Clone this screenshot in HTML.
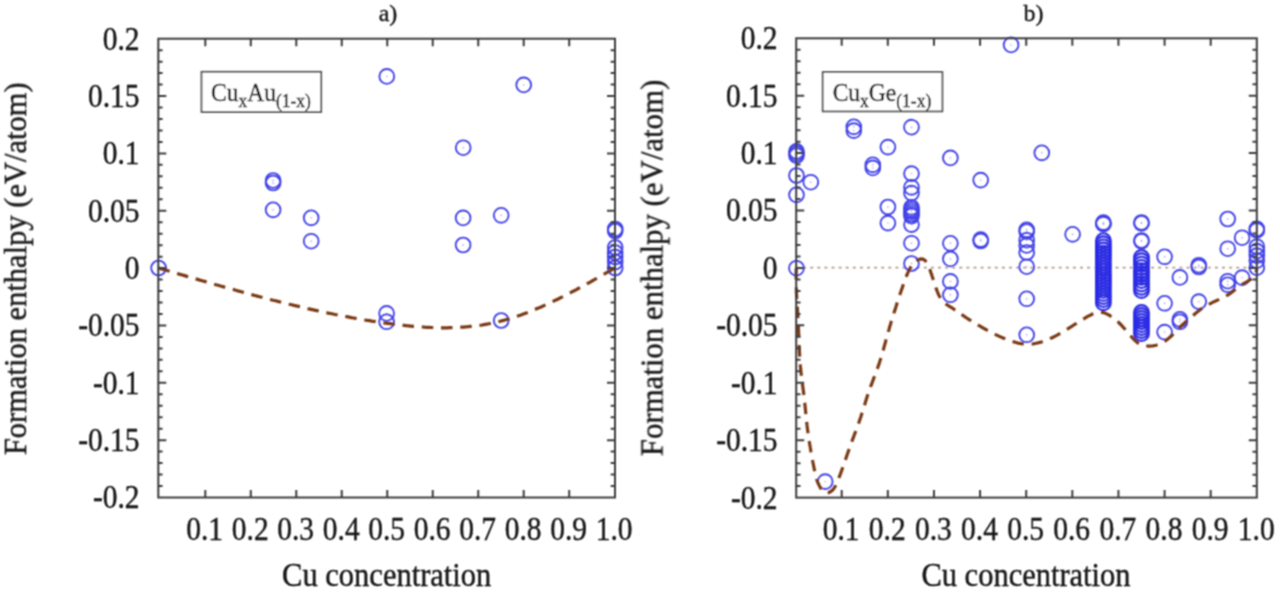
<!DOCTYPE html>
<html><head><meta charset="utf-8"><style>
html,body{margin:0;padding:0;background:#fff;}
body{width:1280px;height:592px;overflow:hidden;}
svg{display:block;}
</style></head><body>
<svg width="1280" height="592" viewBox="0 0 1280 592">
<defs><filter id="bl" x="0" y="0" width="1280" height="592" filterUnits="userSpaceOnUse"><feConvolveMatrix order="3" kernelMatrix="1 2 1 2 4 2 1 2 1" divisor="16" edgeMode="duplicate" preserveAlpha="false"/></filter></defs>
<rect width="1280" height="592" fill="#fff"/>
<g filter="url(#bl)">
<g font-family="Liberation Serif" fill="#151515" stroke="#151515" stroke-width="0.35">
<g font-size="29.5">
<text x="139.6" y="48.3" text-anchor="end" transform="translate(0 38.50) scale(1 1.14) translate(0 -38.50)">0.2</text>
<text x="139.6" y="105.7" text-anchor="end" transform="translate(0 95.85) scale(1 1.14) translate(0 -95.85)">0.15</text>
<text x="139.6" y="163.0" text-anchor="end" transform="translate(0 153.20) scale(1 1.14) translate(0 -153.20)">0.1</text>
<text x="139.6" y="220.3" text-anchor="end" transform="translate(0 210.55) scale(1 1.14) translate(0 -210.55)">0.05</text>
<text x="139.6" y="277.7" text-anchor="end" transform="translate(0 267.90) scale(1 1.14) translate(0 -267.90)">0</text>
<text x="139.6" y="335.1" text-anchor="end" transform="translate(0 325.25) scale(1 1.14) translate(0 -325.25)">-0.05</text>
<text x="139.6" y="392.4" text-anchor="end" transform="translate(0 382.60) scale(1 1.14) translate(0 -382.60)">-0.1</text>
<text x="139.6" y="449.8" text-anchor="end" transform="translate(0 439.95) scale(1 1.14) translate(0 -439.95)">-0.15</text>
<text x="139.6" y="507.1" text-anchor="end" transform="translate(0 497.30) scale(1 1.14) translate(0 -497.30)">-0.2</text>
<text x="204.7" y="538.3" text-anchor="middle" transform="translate(0 528.40) scale(1 1.14) translate(0 -528.40)">0.1</text>
<text x="250.2" y="538.3" text-anchor="middle" transform="translate(0 528.40) scale(1 1.14) translate(0 -528.40)">0.2</text>
<text x="295.7" y="538.3" text-anchor="middle" transform="translate(0 528.40) scale(1 1.14) translate(0 -528.40)">0.3</text>
<text x="341.2" y="538.3" text-anchor="middle" transform="translate(0 528.40) scale(1 1.14) translate(0 -528.40)">0.4</text>
<text x="386.6" y="538.3" text-anchor="middle" transform="translate(0 528.40) scale(1 1.14) translate(0 -528.40)">0.5</text>
<text x="432.1" y="538.3" text-anchor="middle" transform="translate(0 528.40) scale(1 1.14) translate(0 -528.40)">0.6</text>
<text x="477.6" y="538.3" text-anchor="middle" transform="translate(0 528.40) scale(1 1.14) translate(0 -528.40)">0.7</text>
<text x="523.1" y="538.3" text-anchor="middle" transform="translate(0 528.40) scale(1 1.14) translate(0 -528.40)">0.8</text>
<text x="568.6" y="538.3" text-anchor="middle" transform="translate(0 528.40) scale(1 1.14) translate(0 -528.40)">0.9</text>
<text x="614.1" y="538.3" text-anchor="middle" transform="translate(0 528.40) scale(1 1.14) translate(0 -528.40)">1.0</text>
<text x="777.6" y="47.9" text-anchor="end" transform="translate(0 38.10) scale(1 1.14) translate(0 -38.10)">0.2</text>
<text x="777.6" y="105.3" text-anchor="end" transform="translate(0 95.51) scale(1 1.14) translate(0 -95.51)">0.15</text>
<text x="777.6" y="162.7" text-anchor="end" transform="translate(0 152.92) scale(1 1.14) translate(0 -152.92)">0.1</text>
<text x="777.6" y="220.1" text-anchor="end" transform="translate(0 210.34) scale(1 1.14) translate(0 -210.34)">0.05</text>
<text x="777.6" y="277.6" text-anchor="end" transform="translate(0 267.75) scale(1 1.14) translate(0 -267.75)">0</text>
<text x="777.6" y="335.0" text-anchor="end" transform="translate(0 325.16) scale(1 1.14) translate(0 -325.16)">-0.05</text>
<text x="777.6" y="392.4" text-anchor="end" transform="translate(0 382.58) scale(1 1.14) translate(0 -382.58)">-0.1</text>
<text x="777.6" y="449.8" text-anchor="end" transform="translate(0 439.99) scale(1 1.14) translate(0 -439.99)">-0.15</text>
<text x="777.6" y="507.2" text-anchor="end" transform="translate(0 497.40) scale(1 1.14) translate(0 -497.40)">-0.2</text>
<text x="841.1" y="538.3" text-anchor="middle" transform="translate(0 528.40) scale(1 1.14) translate(0 -528.40)">0.1</text>
<text x="887.2" y="538.3" text-anchor="middle" transform="translate(0 528.40) scale(1 1.14) translate(0 -528.40)">0.2</text>
<text x="933.4" y="538.3" text-anchor="middle" transform="translate(0 528.40) scale(1 1.14) translate(0 -528.40)">0.3</text>
<text x="979.5" y="538.3" text-anchor="middle" transform="translate(0 528.40) scale(1 1.14) translate(0 -528.40)">0.4</text>
<text x="1025.6" y="538.3" text-anchor="middle" transform="translate(0 528.40) scale(1 1.14) translate(0 -528.40)">0.5</text>
<text x="1071.7" y="538.3" text-anchor="middle" transform="translate(0 528.40) scale(1 1.14) translate(0 -528.40)">0.6</text>
<text x="1117.9" y="538.3" text-anchor="middle" transform="translate(0 528.40) scale(1 1.14) translate(0 -528.40)">0.7</text>
<text x="1164.0" y="538.3" text-anchor="middle" transform="translate(0 528.40) scale(1 1.14) translate(0 -528.40)">0.8</text>
<text x="1210.1" y="538.3" text-anchor="middle" transform="translate(0 528.40) scale(1 1.14) translate(0 -528.40)">0.9</text>
<text x="1256.2" y="538.3" text-anchor="middle" transform="translate(0 528.40) scale(1 1.14) translate(0 -528.40)">1.0</text>
</g>
<g font-size="30.5">
<text x="386.7" y="585.5" text-anchor="middle" transform="translate(0 584) scale(1 1.08) translate(0 -584)">Cu concentration</text>
<text x="1026" y="585.5" text-anchor="middle" transform="translate(0 584) scale(1 1.08) translate(0 -584)">Cu concentration</text>
<text transform="translate(26,268.8) rotate(-90)" text-anchor="middle">Formation enthalpy (eV/atom)</text>
<text transform="translate(662.5,267.9) rotate(-90)" text-anchor="middle" font-size="30.8">Formation enthalpy (eV/atom)</text>
</g>
<g font-size="24">
<text x="388" y="21" text-anchor="middle">a)</text>
<text x="1033.4" y="21" text-anchor="middle">b)</text>
</g>
</g>
<rect x="201.5" y="71.8" width="119.7" height="40.2" fill="#fff" stroke="#555" stroke-width="1.8"/>
<rect x="822.7" y="72" width="119.7" height="39.4" fill="#fff" stroke="#555" stroke-width="1.8"/>
<g font-family="Liberation Serif" fill="#151515" stroke="#151515" stroke-width="0.35">
<text x="211" y="100.6" font-size="23.5" transform="translate(0 100) scale(1 1.07) translate(0 -100)">Cu<tspan font-size="17.5" dy="6">x</tspan><tspan dy="-6">Au</tspan><tspan font-size="17.5" dy="6">(1-x)</tspan></text>
<text x="832.7" y="100.6" font-size="23.5" transform="translate(0 100) scale(1 1.07) translate(0 -100)">Cu<tspan font-size="17.5" dy="6">x</tspan><tspan dy="-6">Ge</tspan><tspan font-size="17.5" dy="6">(1-x)</tspan></text>
</g>
<path d="M796.2 267.7H1256.8" stroke="#b49c92" stroke-width="1.8" stroke-dasharray="3 4.1" stroke-dashoffset="0.2" fill="none"/>
<g fill="none" stroke="#2c2ce4" stroke-width="2.1">
<circle cx="1103.4" cy="240.7" r="7.4"/>
<circle cx="1103.4" cy="243.79999999999998" r="7.4"/>
<circle cx="1103.4" cy="246.89999999999998" r="7.4"/>
<circle cx="1103.4" cy="250.0" r="7.4"/>
<circle cx="1103.4" cy="253.1" r="7.4"/>
<circle cx="1103.4" cy="256.2" r="7.4"/>
<circle cx="1103.4" cy="259.3" r="7.4"/>
<circle cx="1103.4" cy="262.4" r="7.4"/>
<circle cx="1103.4" cy="265.5" r="7.4"/>
<circle cx="1103.4" cy="268.59999999999997" r="7.4"/>
<circle cx="1103.4" cy="271.7" r="7.4"/>
<circle cx="1103.4" cy="274.8" r="7.4"/>
<circle cx="1103.4" cy="277.9" r="7.4"/>
<circle cx="1103.4" cy="281.0" r="7.4"/>
<circle cx="1103.4" cy="284.09999999999997" r="7.4"/>
<circle cx="1103.4" cy="287.2" r="7.4"/>
<circle cx="1103.4" cy="290.3" r="7.4"/>
<circle cx="1103.4" cy="293.4" r="7.4"/>
<circle cx="1103.4" cy="296.5" r="7.4"/>
<circle cx="1103.4" cy="299.59999999999997" r="7.4"/>
<circle cx="1103.4" cy="302.7" r="7.4"/>
<circle cx="1141.5" cy="257.5" r="7.4"/>
<circle cx="1141.5" cy="260.8" r="7.4"/>
<circle cx="1141.5" cy="264.1" r="7.4"/>
<circle cx="1141.5" cy="267.4" r="7.4"/>
<circle cx="1141.5" cy="270.7" r="7.4"/>
<circle cx="1141.5" cy="274.0" r="7.4"/>
<circle cx="1141.5" cy="277.3" r="7.4"/>
<circle cx="1141.5" cy="280.6" r="7.4"/>
<circle cx="1141.5" cy="283.9" r="7.4"/>
<circle cx="1141.5" cy="287.2" r="7.4"/>
<circle cx="1141.5" cy="290.5" r="7.4"/>
<circle cx="1141.5" cy="312.5" r="7.4"/>
<circle cx="1141.5" cy="315.5" r="7.4"/>
<circle cx="1141.5" cy="318.5" r="7.4"/>
<circle cx="1141.5" cy="321.5" r="7.4"/>
<circle cx="1141.5" cy="324.5" r="7.4"/>
<circle cx="1141.5" cy="327.5" r="7.4"/>
<circle cx="1141.5" cy="330.5" r="7.4"/>
<circle cx="1141.5" cy="333.5" r="7.4"/>
</g>
<g fill="none" stroke="#4242e8" stroke-width="1.85">
<circle cx="158.6" cy="268" r="7.4"/>
<circle cx="273.1" cy="180.5" r="7.4"/>
<circle cx="273.1" cy="183" r="7.4"/>
<circle cx="273.1" cy="209.8" r="7.4"/>
<circle cx="311.2" cy="217.8" r="7.4"/>
<circle cx="311.2" cy="241.2" r="7.4"/>
<circle cx="386.8" cy="76.4" r="7.4"/>
<circle cx="386.6" cy="313.4" r="7.4"/>
<circle cx="386.6" cy="321.8" r="7.4"/>
<circle cx="463.2" cy="147.7" r="7.4"/>
<circle cx="463.1" cy="217.9" r="7.4"/>
<circle cx="463.1" cy="245" r="7.4"/>
<circle cx="501.2" cy="215.3" r="7.4"/>
<circle cx="501.2" cy="320.5" r="7.4"/>
<circle cx="523.7" cy="84.9" r="7.4"/>
<circle cx="615.2" cy="229.0" r="7.4"/>
<circle cx="615.2" cy="231.0" r="7.4"/>
<circle cx="615.2" cy="247.5" r="7.4"/>
<circle cx="615.2" cy="252.5" r="7.4"/>
<circle cx="615.2" cy="257" r="7.4"/>
<circle cx="615.2" cy="262" r="7.4"/>
<circle cx="615.2" cy="268" r="7.4"/>
<circle cx="796.5" cy="151.4" r="7.4"/>
<circle cx="796.5" cy="153.4" r="7.4"/>
<circle cx="796.5" cy="155.5" r="7.4"/>
<circle cx="796.5" cy="175.5" r="7.4"/>
<circle cx="810.8" cy="182.2" r="7.4"/>
<circle cx="796.5" cy="194.8" r="7.4"/>
<circle cx="796.5" cy="268.2" r="7.4"/>
<circle cx="825.2" cy="481.6" r="7.4"/>
<circle cx="853.8" cy="126.8" r="7.4"/>
<circle cx="853.8" cy="130.6" r="7.4"/>
<circle cx="872.8" cy="164.8" r="7.4"/>
<circle cx="872.8" cy="167.9" r="7.4"/>
<circle cx="887.9" cy="147.1" r="7.4"/>
<circle cx="887.9" cy="207" r="7.4"/>
<circle cx="887.9" cy="223.1" r="7.4"/>
<circle cx="911.5" cy="127.2" r="7.4"/>
<circle cx="911.5" cy="173.6" r="7.4"/>
<circle cx="911.5" cy="187.4" r="7.4"/>
<circle cx="911.5" cy="193.1" r="7.4"/>
<circle cx="911.5" cy="207.4" r="7.4"/>
<circle cx="911.5" cy="209.5" r="7.4"/>
<circle cx="911.5" cy="211.7" r="7.4"/>
<circle cx="911.5" cy="214" r="7.4"/>
<circle cx="911.5" cy="216" r="7.4"/>
<circle cx="911.5" cy="224.6" r="7.4"/>
<circle cx="911.5" cy="243.2" r="7.4"/>
<circle cx="911.5" cy="263.5" r="7.4"/>
<circle cx="950.4" cy="157.9" r="7.4"/>
<circle cx="950.4" cy="243.3" r="7.4"/>
<circle cx="950.4" cy="258.9" r="7.4"/>
<circle cx="950.4" cy="281.4" r="7.4"/>
<circle cx="950.4" cy="294.8" r="7.4"/>
<circle cx="980.7" cy="180.1" r="7.4"/>
<circle cx="980.7" cy="239.6" r="7.4"/>
<circle cx="980.7" cy="241" r="7.4"/>
<circle cx="1011.1" cy="44.9" r="7.4"/>
<circle cx="1041.8" cy="152.8" r="7.4"/>
<circle cx="1026.7" cy="229.8" r="7.4"/>
<circle cx="1026.7" cy="231.5" r="7.4"/>
<circle cx="1026.7" cy="240.2" r="7.4"/>
<circle cx="1026.7" cy="245.4" r="7.4"/>
<circle cx="1026.7" cy="252.5" r="7.4"/>
<circle cx="1026.7" cy="266.7" r="7.4"/>
<circle cx="1026.7" cy="298.8" r="7.4"/>
<circle cx="1026.7" cy="334.8" r="7.4"/>
<circle cx="1072.6" cy="234.3" r="7.4"/>
<circle cx="1103.4" cy="223.4" r="7.4"/>
<circle cx="1103.4" cy="222.6" r="7.4"/>
<circle cx="1103.4" cy="224.2" r="7.4"/>
<circle cx="1141.5" cy="223.3" r="7.4"/>
<circle cx="1141.5" cy="240.5" r="7.4"/>
<circle cx="1141.5" cy="222.5" r="7.4"/>
<circle cx="1141.5" cy="241.3" r="7.4"/>
<circle cx="1164.6" cy="256.8" r="7.4"/>
<circle cx="1164.6" cy="303.3" r="7.4"/>
<circle cx="1164.6" cy="332.1" r="7.4"/>
<circle cx="1179.9" cy="277.4" r="7.4"/>
<circle cx="1179.9" cy="319.3" r="7.4"/>
<circle cx="1179.9" cy="321.8" r="7.4"/>
<circle cx="1198.8" cy="265.2" r="7.4"/>
<circle cx="1198.8" cy="267.0" r="7.4"/>
<circle cx="1198.8" cy="301.6" r="7.4"/>
<circle cx="1227.7" cy="219" r="7.4"/>
<circle cx="1227.7" cy="248.7" r="7.4"/>
<circle cx="1227.7" cy="281.2" r="7.4"/>
<circle cx="1227.7" cy="284.8" r="7.4"/>
<circle cx="1242.1" cy="237.7" r="7.4"/>
<circle cx="1242.1" cy="277.6" r="7.4"/>
<circle cx="1256.8" cy="228.8" r="7.4"/>
<circle cx="1256.8" cy="230.4" r="7.4"/>
<circle cx="1256.8" cy="246.7" r="7.4"/>
<circle cx="1256.8" cy="251.1" r="7.4"/>
<circle cx="1256.8" cy="255.6" r="7.4"/>
<circle cx="1256.8" cy="260.6" r="7.4"/>
<circle cx="1256.8" cy="267.6" r="7.4"/>
</g>
<g fill="#4242e8" opacity="0.6">
<circle cx="158.6" cy="268" r="0.7"/>
<circle cx="273.1" cy="180.5" r="0.7"/>
<circle cx="273.1" cy="183" r="0.7"/>
<circle cx="273.1" cy="209.8" r="0.7"/>
<circle cx="311.2" cy="217.8" r="0.7"/>
<circle cx="311.2" cy="241.2" r="0.7"/>
<circle cx="386.8" cy="76.4" r="0.7"/>
<circle cx="386.6" cy="313.4" r="0.7"/>
<circle cx="386.6" cy="321.8" r="0.7"/>
<circle cx="463.2" cy="147.7" r="0.7"/>
<circle cx="463.1" cy="217.9" r="0.7"/>
<circle cx="463.1" cy="245" r="0.7"/>
<circle cx="501.2" cy="215.3" r="0.7"/>
<circle cx="501.2" cy="320.5" r="0.7"/>
<circle cx="523.7" cy="84.9" r="0.7"/>
<circle cx="615.2" cy="229.0" r="0.7"/>
<circle cx="615.2" cy="231.0" r="0.7"/>
<circle cx="615.2" cy="247.5" r="0.7"/>
<circle cx="615.2" cy="252.5" r="0.7"/>
<circle cx="615.2" cy="257" r="0.7"/>
<circle cx="615.2" cy="262" r="0.7"/>
<circle cx="615.2" cy="268" r="0.7"/>
<circle cx="796.5" cy="151.4" r="0.7"/>
<circle cx="796.5" cy="153.4" r="0.7"/>
<circle cx="796.5" cy="155.5" r="0.7"/>
<circle cx="796.5" cy="175.5" r="0.7"/>
<circle cx="810.8" cy="182.2" r="0.7"/>
<circle cx="796.5" cy="194.8" r="0.7"/>
<circle cx="796.5" cy="268.2" r="0.7"/>
<circle cx="825.2" cy="481.6" r="0.7"/>
<circle cx="853.8" cy="126.8" r="0.7"/>
<circle cx="853.8" cy="130.6" r="0.7"/>
<circle cx="872.8" cy="164.8" r="0.7"/>
<circle cx="872.8" cy="167.9" r="0.7"/>
<circle cx="887.9" cy="147.1" r="0.7"/>
<circle cx="887.9" cy="207" r="0.7"/>
<circle cx="887.9" cy="223.1" r="0.7"/>
<circle cx="911.5" cy="127.2" r="0.7"/>
<circle cx="911.5" cy="173.6" r="0.7"/>
<circle cx="911.5" cy="187.4" r="0.7"/>
<circle cx="911.5" cy="193.1" r="0.7"/>
<circle cx="911.5" cy="207.4" r="0.7"/>
<circle cx="911.5" cy="209.5" r="0.7"/>
<circle cx="911.5" cy="211.7" r="0.7"/>
<circle cx="911.5" cy="214" r="0.7"/>
<circle cx="911.5" cy="216" r="0.7"/>
<circle cx="911.5" cy="224.6" r="0.7"/>
<circle cx="911.5" cy="243.2" r="0.7"/>
<circle cx="911.5" cy="263.5" r="0.7"/>
<circle cx="950.4" cy="157.9" r="0.7"/>
<circle cx="950.4" cy="243.3" r="0.7"/>
<circle cx="950.4" cy="258.9" r="0.7"/>
<circle cx="950.4" cy="281.4" r="0.7"/>
<circle cx="950.4" cy="294.8" r="0.7"/>
<circle cx="980.7" cy="180.1" r="0.7"/>
<circle cx="980.7" cy="239.6" r="0.7"/>
<circle cx="980.7" cy="241" r="0.7"/>
<circle cx="1011.1" cy="44.9" r="0.7"/>
<circle cx="1041.8" cy="152.8" r="0.7"/>
<circle cx="1026.7" cy="229.8" r="0.7"/>
<circle cx="1026.7" cy="231.5" r="0.7"/>
<circle cx="1026.7" cy="240.2" r="0.7"/>
<circle cx="1026.7" cy="245.4" r="0.7"/>
<circle cx="1026.7" cy="252.5" r="0.7"/>
<circle cx="1026.7" cy="266.7" r="0.7"/>
<circle cx="1026.7" cy="298.8" r="0.7"/>
<circle cx="1026.7" cy="334.8" r="0.7"/>
<circle cx="1072.6" cy="234.3" r="0.7"/>
<circle cx="1103.4" cy="223.4" r="0.7"/>
<circle cx="1103.4" cy="222.6" r="0.7"/>
<circle cx="1103.4" cy="224.2" r="0.7"/>
<circle cx="1141.5" cy="223.3" r="0.7"/>
<circle cx="1141.5" cy="240.5" r="0.7"/>
<circle cx="1141.5" cy="222.5" r="0.7"/>
<circle cx="1141.5" cy="241.3" r="0.7"/>
<circle cx="1164.6" cy="256.8" r="0.7"/>
<circle cx="1164.6" cy="303.3" r="0.7"/>
<circle cx="1164.6" cy="332.1" r="0.7"/>
<circle cx="1179.9" cy="277.4" r="0.7"/>
<circle cx="1179.9" cy="319.3" r="0.7"/>
<circle cx="1179.9" cy="321.8" r="0.7"/>
<circle cx="1198.8" cy="265.2" r="0.7"/>
<circle cx="1198.8" cy="267.0" r="0.7"/>
<circle cx="1198.8" cy="301.6" r="0.7"/>
<circle cx="1227.7" cy="219" r="0.7"/>
<circle cx="1227.7" cy="248.7" r="0.7"/>
<circle cx="1227.7" cy="281.2" r="0.7"/>
<circle cx="1227.7" cy="284.8" r="0.7"/>
<circle cx="1242.1" cy="237.7" r="0.7"/>
<circle cx="1242.1" cy="277.6" r="0.7"/>
<circle cx="1256.8" cy="228.8" r="0.7"/>
<circle cx="1256.8" cy="230.4" r="0.7"/>
<circle cx="1256.8" cy="246.7" r="0.7"/>
<circle cx="1256.8" cy="251.1" r="0.7"/>
<circle cx="1256.8" cy="255.6" r="0.7"/>
<circle cx="1256.8" cy="260.6" r="0.7"/>
<circle cx="1256.8" cy="267.6" r="0.7"/>
</g>
<path d="M158.6 268.0 L160.9 268.7 L163.2 269.4 L165.5 270.0 L167.8 270.7 L170.1 271.4 L172.4 272.0 L174.7 272.7 L176.9 273.4 L179.2 274.1 L181.5 274.7 L183.8 275.4 L186.1 276.1 L188.4 276.8 L190.7 277.4 L193.0 278.1 L195.3 278.8 L197.6 279.4 L199.9 280.1 L202.2 280.7 L204.5 281.4 L206.8 282.1 L209.1 282.7 L211.3 283.4 L213.6 284.0 L215.9 284.7 L218.2 285.3 L220.5 286.0 L222.8 286.6 L225.1 287.3 L227.4 287.9 L229.7 288.6 L232.0 289.2 L234.3 289.8 L236.6 290.5 L238.9 291.1 L241.2 291.7 L243.5 292.4 L245.8 293.0 L248.0 293.6 L250.3 294.2 L252.6 294.9 L254.9 295.5 L257.2 296.1 L259.5 296.7 L261.8 297.3 L264.1 297.9 L266.4 298.5 L268.7 299.1 L271.0 299.7 L273.3 300.3 L275.6 300.8 L277.9 301.4 L280.2 302.0 L282.4 302.6 L284.7 303.1 L287.0 303.7 L289.3 304.3 L291.6 304.8 L293.9 305.4 L296.2 305.9 L298.5 306.4 L300.8 307.0 L303.1 307.5 L305.4 308.0 L307.7 308.6 L310.0 309.1 L312.3 309.6 L314.6 310.1 L316.8 310.6 L319.1 311.1 L321.4 311.6 L323.7 312.1 L326.0 312.6 L328.3 313.1 L330.6 313.5 L332.9 314.0 L335.2 314.5 L337.5 314.9 L339.8 315.4 L342.1 315.8 L344.4 316.3 L346.7 316.7 L349.0 317.1 L351.3 317.6 L353.5 318.0 L355.8 318.4 L358.1 318.8 L360.4 319.2 L362.7 319.6 L365.0 320.0 L367.3 320.3 L369.6 320.7 L371.9 321.1 L374.2 321.4 L376.5 321.8 L378.8 322.1 L381.1 322.5 L383.4 322.8 L385.7 323.1 L387.9 323.4 L390.2 323.7 L392.5 324.0 L394.8 324.3 L397.1 324.6 L399.4 324.9 L401.7 325.2 L404.0 325.4 L406.3 325.7 L408.6 325.9 L410.9 326.1 L413.2 326.3 L415.5 326.5 L417.8 326.7 L420.1 326.9 L422.3 327.0 L424.6 327.2 L426.9 327.3 L429.2 327.4 L431.5 327.5 L433.8 327.6 L436.1 327.7 L438.4 327.7 L440.7 327.8 L443.0 327.8 L445.3 327.8 L447.6 327.8 L449.9 327.7 L452.2 327.7 L454.5 327.6 L456.8 327.5 L459.0 327.4 L461.3 327.2 L463.6 327.1 L465.9 326.9 L468.2 326.7 L470.5 326.4 L472.8 326.2 L475.1 325.9 L477.4 325.6 L479.7 325.3 L482.0 325.0 L484.3 324.6 L486.6 324.2 L488.9 323.8 L491.2 323.3 L493.4 322.8 L495.7 322.3 L498.0 321.8 L500.3 321.2 L502.6 320.6 L504.9 320.0 L507.2 319.4 L509.5 318.7 L511.8 318.0 L514.1 317.3 L516.4 316.5 L518.7 315.7 L521.0 314.9 L523.3 314.1 L525.6 313.2 L527.8 312.4 L530.1 311.5 L532.4 310.5 L534.7 309.6 L537.0 308.6 L539.3 307.7 L541.6 306.7 L543.9 305.6 L546.2 304.6 L548.5 303.6 L550.8 302.5 L553.1 301.4 L555.4 300.3 L557.7 299.2 L560.0 298.0 L562.3 296.9 L564.5 295.7 L566.8 294.6 L569.1 293.4 L571.4 292.2 L573.7 291.0 L576.0 289.8 L578.3 288.5 L580.6 287.3 L582.9 286.0 L585.2 284.8 L587.5 283.5 L589.8 282.3 L592.1 281.0 L594.4 279.7 L596.7 278.4 L598.9 277.1 L601.2 275.8 L603.5 274.5 L605.8 273.2 L608.1 271.9 L610.4 270.6 L612.7 269.3 L615.0 268.0" stroke="#7a3a14" stroke-width="3.2" stroke-dasharray="11.5 7.8" fill="none"/>
<path d="M796.3 268.0 L796.2 269.5 L796.2 271.0 L796.1 272.5 L796.1 274.1 L796.1 275.6 L796.1 277.1 L796.1 278.6 L796.1 280.1 L796.1 281.6 L796.1 283.2 L796.2 284.7 L796.2 286.2 L796.3 287.7 L796.3 289.2 L796.4 290.7 L796.4 292.2 L796.5 293.8 L796.6 295.3 L796.7 296.8 L796.8 298.3 L796.8 299.8 L796.9 301.3 L797.0 302.8 L797.1 304.4 L797.2 305.9 L797.3 307.4 L797.4 308.9 L797.5 310.4 L797.6 311.9 L797.7 313.4 L797.8 315.0 L797.9 316.5 L797.9 318.0 L798.0 319.5 L798.1 321.0 L798.2 322.5 L798.3 324.0 L798.3 325.6 L798.4 327.1 L798.5 328.6 L798.5 330.1 L798.6 331.6 L798.7 333.1 L798.7 334.7 L798.8 336.2 L798.8 337.7 L798.9 339.2 L799.0 340.7 L799.0 342.2 L799.1 343.8 L799.1 345.3 L799.2 346.8 L799.3 348.3 L799.4 349.8 L799.4 351.3 L799.5 352.8 L799.6 354.4 L799.7 355.9 L799.8 357.4 L799.9 358.9 L800.0 360.4 L800.1 361.9 L800.2 363.4 L800.3 364.9 L800.4 366.4 L800.6 368.0 L800.7 369.5 L800.8 371.0 L801.0 372.5 L801.2 374.0 L801.3 375.5 L801.5 377.0 L801.7 378.5 L801.9 380.0 L802.1 381.5 L802.3 383.0 L802.5 384.5 L802.7 386.0 L802.9 387.5 L803.1 389.0 L803.3 390.5 L803.5 392.0 L803.7 393.5 L803.9 395.0 L804.1 396.5 L804.2 398.0 L804.4 399.6 L804.6 401.1 L804.7 402.6 L804.9 404.1 L805.0 405.6 L805.2 407.1 L805.3 408.6 L805.5 410.1 L805.6 411.6 L805.8 413.1 L805.9 414.6 L806.1 416.2 L806.2 417.7 L806.4 419.2 L806.5 420.7 L806.7 422.2 L806.9 423.7 L807.0 425.2 L807.2 426.7 L807.4 428.2 L807.6 429.7 L807.8 431.2 L808.0 432.7 L808.2 434.2 L808.4 435.7 L808.6 437.2 L808.9 438.7 L809.1 440.2 L809.3 441.7 L809.6 443.2 L809.8 444.7 L810.1 446.2 L810.3 447.7 L810.6 449.2 L810.8 450.7 L811.1 452.3 L811.4 453.8 L811.6 455.3 L811.9 456.8 L812.2 458.3 L812.5 459.8 L812.7 461.2 L813.0 462.7 L813.3 464.2 L813.6 465.7 L813.9 467.1 L814.1 468.6 L814.4 470.0 L814.7 471.5 L815.0 472.9 L815.3 474.3 L815.7 475.7 L816.0 477.2 L816.5 478.6 L816.9 480.0 L817.4 481.5 L818.0 483.0 L818.7 484.4 L819.4 485.9 L820.2 487.4 L821.1 488.9 L822.1 490.3 L823.2 491.4 L824.4 492.3 L825.6 492.9 L827.0 493.0 L828.4 492.7 L829.9 492.0 L831.2 491.1 L832.5 490.1 L833.5 488.9 L834.4 487.7 L835.2 486.4 L836.0 485.1 L836.6 483.7 L837.2 482.3 L837.8 480.9 L838.3 479.5 L838.9 478.1 L839.4 476.6 L840.0 475.2 L840.5 473.8 L841.0 472.4 L841.5 471.0 L842.0 469.5 L842.5 468.1 L843.0 466.7 L843.5 465.2 L844.0 463.8 L844.5 462.4 L845.0 460.9 L845.5 459.5 L846.0 458.1 L846.5 456.6 L847.0 455.2 L847.5 453.8 L848.0 452.3 L848.5 450.9 L849.0 449.5 L849.5 448.1 L850.0 446.6 L850.5 445.2 L851.0 443.8 L851.6 442.3 L852.1 440.9 L852.6 439.5 L853.1 438.1 L853.7 436.7 L854.2 435.2 L854.7 433.8 L855.3 432.4 L855.8 431.0 L856.3 429.6 L856.8 428.1 L857.4 426.7 L857.9 425.3 L858.4 423.9 L858.9 422.4 L859.4 421.0 L859.9 419.6 L860.4 418.1 L860.9 416.7 L861.3 415.3 L861.8 413.8 L862.3 412.4 L862.7 410.9 L863.2 409.5 L863.6 408.0 L864.1 406.6 L864.5 405.1 L865.0 403.7 L865.4 402.2 L865.9 400.8 L866.3 399.3 L866.8 397.9 L867.2 396.5 L867.7 395.0 L868.2 393.6 L868.7 392.1 L869.2 390.7 L869.7 389.3 L870.2 387.9 L870.7 386.4 L871.3 385.0 L871.8 383.6 L872.3 382.2 L872.9 380.7 L873.4 379.3 L873.9 377.9 L874.5 376.5 L875.0 375.1 L875.5 373.7 L876.1 372.2 L876.6 370.8 L877.1 369.4 L877.6 368.0 L878.1 366.5 L878.6 365.1 L879.1 363.7 L879.6 362.2 L880.0 360.8 L880.5 359.3 L880.9 357.9 L881.4 356.4 L881.8 355.0 L882.2 353.5 L882.6 352.1 L883.1 350.6 L883.5 349.1 L883.9 347.7 L884.3 346.2 L884.7 344.8 L885.1 343.3 L885.5 341.8 L885.9 340.4 L886.3 338.9 L886.7 337.4 L887.1 336.0 L887.5 334.5 L887.9 333.1 L888.3 331.6 L888.8 330.2 L889.2 328.7 L889.6 327.3 L890.0 325.8 L890.5 324.3 L890.9 322.9 L891.3 321.5 L891.8 320.0 L892.2 318.6 L892.7 317.1 L893.1 315.7 L893.6 314.2 L894.0 312.8 L894.5 311.3 L895.0 309.9 L895.4 308.4 L895.9 307.0 L896.3 305.5 L896.8 304.1 L897.3 302.6 L897.7 301.2 L898.2 299.7 L898.7 298.3 L899.2 296.8 L899.6 295.4 L900.1 293.9 L900.6 292.5 L901.1 291.0 L901.6 289.6 L902.1 288.2 L902.6 286.7 L903.1 285.3 L903.6 283.9 L904.1 282.5 L904.6 281.0 L905.1 279.6 L905.7 278.2 L906.2 276.8 L906.7 275.4 L907.3 274.0 L907.9 272.7 L908.5 271.3 L909.1 270.0 L909.8 268.6 L910.6 267.3 L911.5 266.1 L912.4 264.8 L913.5 263.6 L914.6 262.5 L915.9 261.4 L917.3 260.4 L918.7 259.6 L920.1 259.1 L921.5 258.9 L922.7 259.1 L923.9 259.6 L925.0 260.5 L925.9 261.6 L926.8 263.0 L927.7 264.5 L928.4 266.1 L929.1 267.8 L929.8 269.4 L930.4 271.0 L930.9 272.6 L931.5 274.1 L931.9 275.5 L932.4 277.0 L932.9 278.4 L933.3 279.8 L933.8 281.1 L934.2 282.5 L934.6 283.9 L935.1 285.3 L935.5 286.6 L936.0 288.0 L936.5 289.5 L937.1 290.9 L937.6 292.3 L938.2 293.8 L938.9 295.2 L939.6 296.5 L940.4 297.9 L941.2 299.1 L942.1 300.3 L943.1 301.5 L944.2 302.5 L945.3 303.5 L946.5 304.4 L947.8 305.3 L949.0 306.1 L950.3 306.9 L951.7 307.7 L952.9 308.5 L954.2 309.4 L955.5 310.2 L956.7 311.1 L958.0 311.9 L959.2 312.8 L960.5 313.7 L961.7 314.5 L962.9 315.4 L964.2 316.3 L965.4 317.1 L966.7 318.0 L968.0 318.8 L969.2 319.6 L970.5 320.4 L971.8 321.2 L973.1 322.0 L974.4 322.8 L975.7 323.6 L977.0 324.4 L978.3 325.2 L979.6 325.9 L980.9 326.7 L982.2 327.5 L983.5 328.2 L984.9 329.0 L986.2 329.7 L987.5 330.4 L988.9 331.1 L990.2 331.8 L991.5 332.5 L992.9 333.2 L994.2 333.9 L995.6 334.6 L997.0 335.2 L998.3 335.9 L999.7 336.5 L1001.1 337.1 L1002.5 337.7 L1003.9 338.3 L1005.3 338.9 L1006.7 339.5 L1008.1 340.0 L1009.6 340.5 L1011.0 341.0 L1012.4 341.5 L1013.9 341.9 L1015.4 342.3 L1016.8 342.7 L1018.3 343.1 L1019.8 343.4 L1021.3 343.7 L1022.8 343.9 L1024.3 344.1 L1025.8 344.2 L1027.3 344.2 L1028.9 344.2 L1030.4 344.1 L1031.9 344.0 L1033.4 343.8 L1034.9 343.5 L1036.4 343.2 L1037.9 342.9 L1039.3 342.5 L1040.8 342.1 L1042.2 341.7 L1043.7 341.2 L1045.1 340.7 L1046.5 340.1 L1047.9 339.6 L1049.3 339.0 L1050.7 338.3 L1052.1 337.7 L1053.5 337.0 L1054.8 336.3 L1056.2 335.6 L1057.5 334.9 L1058.9 334.2 L1060.2 333.4 L1061.5 332.7 L1062.8 331.9 L1064.1 331.1 L1065.4 330.3 L1066.7 329.5 L1068.0 328.7 L1069.3 327.9 L1070.5 327.1 L1071.8 326.3 L1073.0 325.5 L1074.3 324.7 L1075.6 323.9 L1076.8 323.1 L1078.1 322.3 L1079.3 321.5 L1080.6 320.7 L1081.9 319.9 L1083.2 319.1 L1084.6 318.3 L1085.9 317.5 L1087.3 316.7 L1088.7 315.9 L1090.2 315.2 L1091.6 314.5 L1093.1 313.8 L1094.5 313.3 L1096.0 312.8 L1097.5 312.4 L1099.0 312.2 L1100.4 312.2 L1101.9 312.3 L1103.4 312.6 L1104.8 313.0 L1106.2 313.6 L1107.6 314.3 L1108.9 315.0 L1110.2 315.8 L1111.5 316.6 L1112.8 317.5 L1114.0 318.4 L1115.2 319.4 L1116.4 320.4 L1117.5 321.4 L1118.6 322.4 L1119.7 323.5 L1120.7 324.5 L1121.8 325.6 L1122.8 326.7 L1123.8 327.9 L1124.8 329.0 L1125.8 330.1 L1126.8 331.3 L1127.7 332.4 L1128.7 333.6 L1129.7 334.8 L1130.7 335.9 L1131.7 337.0 L1132.8 338.2 L1133.8 339.3 L1134.9 340.4 L1136.1 341.4 L1137.2 342.4 L1138.5 343.3 L1139.8 344.1 L1141.1 344.7 L1142.5 345.2 L1144.0 345.6 L1145.5 345.9 L1147.0 346.0 L1148.6 346.1 L1150.1 346.1 L1151.7 346.0 L1153.2 345.8 L1154.7 345.5 L1156.1 345.2 L1157.6 344.8 L1159.0 344.3 L1160.4 343.7 L1161.8 343.0 L1163.1 342.2 L1164.4 341.4 L1165.7 340.6 L1166.9 339.7 L1168.1 338.7 L1169.3 337.8 L1170.4 336.8 L1171.6 335.7 L1172.7 334.7 L1173.7 333.6 L1174.8 332.5 L1175.9 331.4 L1176.9 330.3 L1178.0 329.3 L1179.0 328.2 L1180.1 327.1 L1181.2 326.0 L1182.3 325.0 L1183.4 324.0 L1184.5 322.9 L1185.6 321.9 L1186.8 320.9 L1187.9 319.9 L1189.1 318.9 L1190.2 318.0 L1191.4 317.0 L1192.5 316.0 L1193.7 315.0 L1194.8 314.0 L1196.0 313.0 L1197.2 312.1 L1198.3 311.1 L1199.5 310.2 L1200.7 309.3 L1202.0 308.4 L1203.2 307.5 L1204.5 306.7 L1205.8 306.0 L1207.1 305.2 L1208.5 304.5 L1209.8 303.8 L1211.2 303.1 L1212.5 302.4 L1213.9 301.8 L1215.3 301.1 L1216.7 300.5 L1218.1 299.9 L1219.5 299.2 L1220.9 298.6 L1222.2 297.9 L1223.6 297.3 L1224.9 296.6 L1226.2 295.8 L1227.5 295.1 L1228.8 294.3 L1230.1 293.4 L1231.3 292.6 L1232.5 291.6 L1233.7 290.7 L1234.9 289.8 L1236.1 288.8 L1237.3 287.9 L1238.5 287.0 L1239.7 286.1 L1241.0 285.2 L1242.3 284.4 L1243.6 283.6 L1244.9 282.8 L1246.2 282.1 L1247.6 281.3 L1248.8 280.5 L1250.1 279.6 L1251.2 278.7 L1252.3 277.7 L1253.3 276.7 L1254.2 275.6 L1255.0 274.3 L1255.7 273.0 L1256.2 271.5 L1256.6 269.8 L1256.8 268.0" stroke="#7a3a14" stroke-width="3.2" stroke-dasharray="11.5 7.8" fill="none"/>
<rect x="158.3" y="38.7" width="456.70" height="458.80" fill="none" stroke="#3c3c3c" stroke-width="2"/>
<path d="M205.30 497.50v-7.5M205.30 38.70v7.5M250.79 497.50v-7.5M250.79 38.70v7.5M296.28 497.50v-7.5M296.28 38.70v7.5M341.76 497.50v-7.5M341.76 38.70v7.5M387.25 497.50v-7.5M387.25 38.70v7.5M432.74 497.50v-7.5M432.74 38.70v7.5M478.23 497.50v-7.5M478.23 38.70v7.5M523.71 497.50v-7.5M523.71 38.70v7.5M569.20 497.50v-7.5M569.20 38.70v7.5M158.30 50.17h4.3M615.00 50.17h-4.3M158.30 61.64h4.3M615.00 61.64h-4.3M158.30 73.11h4.3M615.00 73.11h-4.3M158.30 84.58h4.3M615.00 84.58h-4.3M158.30 96.05h8M615.00 96.05h-8M158.30 107.52h4.3M615.00 107.52h-4.3M158.30 118.99h4.3M615.00 118.99h-4.3M158.30 130.46h4.3M615.00 130.46h-4.3M158.30 141.93h4.3M615.00 141.93h-4.3M158.30 153.40h8M615.00 153.40h-8M158.30 164.87h4.3M615.00 164.87h-4.3M158.30 176.34h4.3M615.00 176.34h-4.3M158.30 187.81h4.3M615.00 187.81h-4.3M158.30 199.28h4.3M615.00 199.28h-4.3M158.30 210.75h8M615.00 210.75h-8M158.30 222.22h4.3M615.00 222.22h-4.3M158.30 233.69h4.3M615.00 233.69h-4.3M158.30 245.16h4.3M615.00 245.16h-4.3M158.30 256.63h4.3M615.00 256.63h-4.3M158.30 268.10h8M615.00 268.10h-8M158.30 279.57h4.3M615.00 279.57h-4.3M158.30 291.04h4.3M615.00 291.04h-4.3M158.30 302.51h4.3M615.00 302.51h-4.3M158.30 313.98h4.3M615.00 313.98h-4.3M158.30 325.45h8M615.00 325.45h-8M158.30 336.92h4.3M615.00 336.92h-4.3M158.30 348.39h4.3M615.00 348.39h-4.3M158.30 359.86h4.3M615.00 359.86h-4.3M158.30 371.33h4.3M615.00 371.33h-4.3M158.30 382.80h8M615.00 382.80h-8M158.30 394.27h4.3M615.00 394.27h-4.3M158.30 405.74h4.3M615.00 405.74h-4.3M158.30 417.21h4.3M615.00 417.21h-4.3M158.30 428.68h4.3M615.00 428.68h-4.3M158.30 440.15h8M615.00 440.15h-8M158.30 451.62h4.3M615.00 451.62h-4.3M158.30 463.09h4.3M615.00 463.09h-4.3M158.30 474.56h4.3M615.00 474.56h-4.3M158.30 486.03h4.3M615.00 486.03h-4.3" stroke="#3c3c3c" stroke-width="2" fill="none"/>
<rect x="796.2" y="38.3" width="460.60" height="459.30" fill="none" stroke="#3c3c3c" stroke-width="2"/>
<path d="M841.70 497.60v-7.5M841.70 38.30v7.5M887.83 497.60v-7.5M887.83 38.30v7.5M933.95 497.60v-7.5M933.95 38.30v7.5M980.08 497.60v-7.5M980.08 38.30v7.5M1026.20 497.60v-7.5M1026.20 38.30v7.5M1072.33 497.60v-7.5M1072.33 38.30v7.5M1118.45 497.60v-7.5M1118.45 38.30v7.5M1164.58 497.60v-7.5M1164.58 38.30v7.5M1210.70 497.60v-7.5M1210.70 38.30v7.5M796.20 49.78h4.3M1256.80 49.78h-4.3M796.20 61.27h4.3M1256.80 61.27h-4.3M796.20 72.75h4.3M1256.80 72.75h-4.3M796.20 84.23h4.3M1256.80 84.23h-4.3M796.20 95.71h8M1256.80 95.71h-8M796.20 107.20h4.3M1256.80 107.20h-4.3M796.20 118.68h4.3M1256.80 118.68h-4.3M796.20 130.16h4.3M1256.80 130.16h-4.3M796.20 141.64h4.3M1256.80 141.64h-4.3M796.20 153.12h8M1256.80 153.12h-8M796.20 164.61h4.3M1256.80 164.61h-4.3M796.20 176.09h4.3M1256.80 176.09h-4.3M796.20 187.57h4.3M1256.80 187.57h-4.3M796.20 199.06h4.3M1256.80 199.06h-4.3M796.20 210.54h8M1256.80 210.54h-8M796.20 222.02h4.3M1256.80 222.02h-4.3M796.20 233.50h4.3M1256.80 233.50h-4.3M796.20 244.99h4.3M1256.80 244.99h-4.3M796.20 256.47h4.3M1256.80 256.47h-4.3M796.20 267.95h8M1256.80 267.95h-8M796.20 279.43h4.3M1256.80 279.43h-4.3M796.20 290.92h4.3M1256.80 290.92h-4.3M796.20 302.40h4.3M1256.80 302.40h-4.3M796.20 313.88h4.3M1256.80 313.88h-4.3M796.20 325.36h8M1256.80 325.36h-8M796.20 336.85h4.3M1256.80 336.85h-4.3M796.20 348.33h4.3M1256.80 348.33h-4.3M796.20 359.81h4.3M1256.80 359.81h-4.3M796.20 371.29h4.3M1256.80 371.29h-4.3M796.20 382.78h8M1256.80 382.78h-8M796.20 394.26h4.3M1256.80 394.26h-4.3M796.20 405.74h4.3M1256.80 405.74h-4.3M796.20 417.22h4.3M1256.80 417.22h-4.3M796.20 428.71h4.3M1256.80 428.71h-4.3M796.20 440.19h8M1256.80 440.19h-8M796.20 451.67h4.3M1256.80 451.67h-4.3M796.20 463.15h4.3M1256.80 463.15h-4.3M796.20 474.64h4.3M1256.80 474.64h-4.3M796.20 486.12h4.3M1256.80 486.12h-4.3" stroke="#3c3c3c" stroke-width="2" fill="none"/>
</g>
</svg>
</body></html>
